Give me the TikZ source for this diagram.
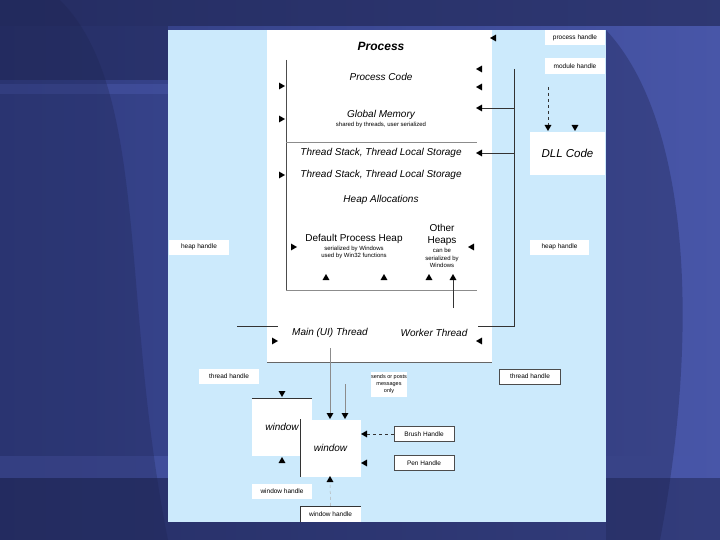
\documentclass[tikz,border=0pt]{standalone}
\usepackage{fontspec}
\setmainfont{Liberation Sans}
\usetikzlibrary{shapes,arrows}

\definecolor{bgdark}{RGB}{30,36,80}
\definecolor{bgmid}{RGB}{48,60,128}
\definecolor{bglight}{RGB}{72,86,168}
\definecolor{panel}{RGB}{204,234,252}

\tikzset{
  ttl/.style={font=\fontsize{12}{14}\selectfont\bfseries\itshape, inner sep=0pt},
  lbl/.style={font=\fontsize{10}{12}\selectfont\itshape, inner sep=0pt},
  plain/.style={font=\fontsize{10}{12}\selectfont, inner sep=0pt, align=center},
  tiny/.style={font=\fontsize{6}{7.5}\selectfont, inner sep=0pt, align=center},
  hbox/.style={fill=white, inner sep=0pt, minimum width=60pt, minimum height=15pt,
    font=\fontsize{6.5}{7.5}\selectfont, align=center},
  hboxd/.style={hbox, draw=black!70, line width=0.6pt},
  win/.style={fill=white, inner sep=0pt, font=\fontsize{10}{12}\selectfont\itshape},
  tipU/.style={regular polygon, regular polygon sides=3, fill=black, inner sep=0pt, minimum size=8pt},
  tipD/.style={tipU, shape border rotate=180},
  tipL/.style={tipU, shape border rotate=90},
  tipR/.style={tipU, shape border rotate=-90},
  bus/.style={draw=black!80, line width=0.6pt},
  thin/.style={draw=black!45, line width=0.5pt},
}

\begin{document}
\begin{tikzpicture}[x=1pt,y=-1pt]
    \useasboundingbox (0,0) rectangle (720,540);
    % Backdrop
    \shade[left color=bgmid, right color=bglight] (0,0) rectangle (720,540);
    \fill[bgdark, opacity=0.6] (0,0) rectangle (720,26);
    \fill[bgdark, opacity=0.5] (0,26) rectangle (168,80);
    \fill[bglight, opacity=0.5] (0,84) rectangle (168,94);
    \fill[bglight, opacity=0.6] (0,456) rectangle (720,478);
    \fill[bgdark, opacity=0.5] (0,478) rectangle (720,540);
    \fill[bgdark, opacity=0.35] (606,30) .. controls (690,120) and (700,330) .. (660,540) -- (606,540) -- cycle;
    \fill[bgdark, opacity=0.3] (60,0) .. controls (150,90) and (120,300) .. (168,540) -- (0,540) -- (0,0) -- cycle;

    % Panel and process area
    \fill[panel] (168,30) rectangle (606,522);
    \fill[white] (267,30) rectangle (492,362);
    \draw[draw=black!60, line width=0.7pt] (267,362) -- (492,362);
    \draw[draw=black!70, line width=0.6pt] (286,60) -- (286,290);
    \draw[thin] (286,142) -- (477,142);
    \draw[thin] (286,290) -- (477,290);

    % Process contents
    \node[ttl] (proc) at (381,46) {Process};
    \node[lbl] (code) at (381,77) {Process Code};
    \node[lbl] (glob) at (381,115) {Global Memory};
    \node[tiny] (globn) at (381,124.5) {shared by threads, user serialized};
    \node[lbl] (tls1) at (381,153) {Thread Stack, Thread Local Storage};
    \node[lbl] (tls2) at (381,175) {Thread Stack, Thread Local Storage};
    \node[lbl] (heap) at (381,200) {Heap Allocations};
    \node[plain] (dph) at (354,239) {Default Process Heap};
    \node[tiny] (dphn) at (354,252.5) {serialized by Windows\\used by Win32 functions};
    \node[plain] (oth) at (442,235) {Other\\Heaps};
    \node[tiny] (othn) at (442,258) {can be\\serialized by\\Windows};
    \node[lbl] (mth) at (330,333) {Main (UI) Thread};
    \node[lbl] (wth) at (434,333) {Worker Thread};

    % Arrow tips on the process
    \node[tipR] (lc1) at (281,86) {};
    \node[tipR] (lc2) at (281,119) {};
    \node[tipR] (lc3) at (281,175) {};
    \node[tipR] (lc4) at (293,247) {};
    \node[tipR] (lc5) at (274,341) {};
    \node[tipL] (rc0) at (494,38) {};
    \node[tipL] (rc1) at (480,69) {};
    \node[tipL] (rc2) at (480,87) {};
    \node[tipL] (rc3) at (480,108) {};
    \node[tipL] (rc4) at (480,153) {};
    \node[tipL] (rc5) at (472,247) {};
    \node[tipL] (rc6) at (480,341) {};
    \node[tipU] (ua1) at (326,278) {};
    \node[tipU] (ua2) at (384,278) {};
    \node[tipU] (ua3) at (429,278) {};
    \node[tipU] (ua4) at (453,278) {};

    % Handles
    \node[hbox] (ph) at (575,37.5) {process handle};
    \node[hbox, minimum height=16pt] (mh) at (575,66) {module handle};
    \node[win, minimum width=75pt, minimum height=43pt, font=\fontsize{11.5}{13}\selectfont\itshape] (dll) at (567.5,153.5) {DLL Code};
    \node[hbox, minimum width=59pt] (hhr) at (559.5,247) {heap handle};
    \node[hbox] (hhl) at (199,247) {heap handle};
    \node[hbox] (thl) at (229,376.5) {thread handle};
    \node[hboxd, minimum width=61pt] (thr) at (530,376.5) {thread handle};
    \node[hbox, minimum width=36pt, minimum height=25pt, font=\fontsize{5.5}{7}\selectfont] (msg) at (389,384) {sends or posts\\messages\\only};
    \node[tipD] (d1) at (548,127) {};
    \node[tipD] (d2) at (575,127) {};
    \coordinate (mhb) at (548,87);

    % Bus lines
    \coordinate (busT) at (514,69);
    \coordinate (busB) at (514,326);
    \coordinate (b3) at (514,108);
    \coordinate (b4) at (514,153);
    \coordinate (wte) at (478,326);
    \coordinate (ml1) at (237,326);
    \coordinate (ml2) at (278,326);
    \coordinate (hp) at (453,308);
    \draw[bus] (busT) -- (busB) -- (wte);
    \draw[bus] (b3) -- (rc3);
    \draw[bus] (b4) -- (rc4);
    \draw[bus] (ml1) -- (ml2);
    \draw[bus, line width=0.5pt] (hp) -- (ua4);
    \draw[bus, dashed] (mhb) -- (d1);

    % Windows
    \node[win, minimum width=60pt, minimum height=58pt] (w1) at (282,427) {window};
    \node[win, minimum width=61pt, minimum height=57pt] (w2) at (330.5,448) {window};
    \draw[bus] (w1.north west) -- (w1.north east);
    \draw[bus] (w2.north west) -- (w2.south west);
    \node[hboxd] (brush) at (424,434) {Brush Handle};
    \node[hboxd] (pen) at (424,463) {Pen Handle};
    \node[hbox] (whl) at (282,491) {window handle};
    \node[hbox, minimum width=61pt, minimum height=16pt] (whb) at (330.5,514) {window handle};
    \draw[bus] (whb.south west) -- (whb.north west) -- (whb.north east);
    \node[tipD] (wd1) at (282,393) {};
    \node[tipU] (wu1) at (282,461) {};
    \node[tipD] (wd2) at (330,415) {};
    \node[tipD] (wd3) at (345,415) {};
    \node[tipL] (wl1) at (365,434) {};
    \node[tipL] (wl2) at (365,463) {};
    \node[tipU] (wu2) at (330,480) {};
    \coordinate (mt) at (330,348);
    \coordinate (sp) at (345,384);
    \draw[thin] (mt) -- (wd2);
    \draw[thin] (sp) -- (wd3);
    \draw[bus, dashed] (brush.west) -- (wl1);
    \draw[thin, dashed, draw=black!30] (whb.north) -- (wu2);
\end{tikzpicture}
\end{document}
